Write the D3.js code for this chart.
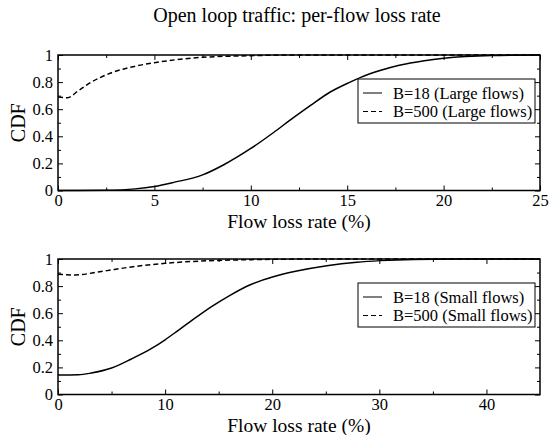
<!DOCTYPE html>
<html>
<head>
<meta charset="utf-8">
<script src="https://cdn.jsdelivr.net/npm/d3@7"></script>
<style>
  body { margin: 0; background: #fff; }
  svg { font-family: "Liberation Serif", "DejaVu Serif", serif; }
  .axis path { display: none; }
  .axis line { stroke: #000; stroke-width: 1; }
  .axis text { font-size: 16.5px; fill: #000; font-family: "Liberation Serif", serif; }
</style>
</head>
<body>
<svg width="555" height="435"></svg>
<script>
// values
var largeX18 = [0, 2.5, 4, 5, 6, 7.5, 8.6, 10, 11.2, 12, 13.1, 14.1, 15.15, 15.7, 16.7, 17.7, 19, 20, 22.5, 25];
var largeY18 = [0, 0.002, 0.012, 0.03, 0.06, 0.115, 0.19, 0.31, 0.43, 0.515, 0.628, 0.725, 0.80, 0.835, 0.885, 0.924, 0.958, 0.976, 0.996, 1];
var largeX500 = [0, 0.5, 1, 1.5, 2.7, 3.9, 5, 7.5, 10, 12, 25];
var largeY500 = [0.69, 0.685, 0.73, 0.78, 0.865, 0.914, 0.943, 0.983, 0.995, 1, 1];

var smallX18 = [0, 1.9, 3.1, 5.0, 6.85, 8.7, 10, 11.2, 12.5, 14.3, 16.1, 17.9, 20.1, 22.3, 25.1, 27.9, 30.1, 33.2, 37, 45];
var smallY18 = [0.143, 0.145, 0.158, 0.195, 0.262, 0.338, 0.404, 0.472, 0.547, 0.647, 0.734, 0.808, 0.869, 0.911, 0.95, 0.976, 0.988, 0.997, 1, 1];
var smallX500 = [0, 1.6, 3.9, 7, 10, 13.3, 18, 25, 45];
var smallY500 = [0.887, 0.882, 0.906, 0.943, 0.968, 0.985, 0.995, 1, 1];

var yTicks = [0, 0.2, 0.4, 0.6, 0.8, 1];
var yMinor = [0.1, 0.3, 0.5, 0.7, 0.9];
var largeTicks = [0, 5, 10, 15, 20, 25];
var largeMinor = [2.5, 7.5, 12.5, 17.5, 22.5];
var smallTicks = [0, 10, 20, 30, 40];
var smallMinor = [5, 15, 25, 35];

var title = "Open loop traffic: per-flow loss rate";
var xTitle = "Flow loss rate (%)";
var yTitle = "CDF";

var svg = d3.select('svg');

svg.append('text')
    .text(title)
    .attr('x', 297)
    .attr('y', 22)
    .style('text-anchor', 'middle')
    .style('font-size', '20px');

function panel(top, xmax, ticks, minor, series, legendNames) {
  var left = 58, right = 540, h = 135.5;
  var x = d3.scaleLinear().domain([0, xmax]).range([left, right]);
  var y = d3.scaleLinear().domain([0, 1]).range([top + h, top]);
  var fmt = d3.format('');

  var g = svg.append('g');

  // major + minor ticks, inward, on all four sides
  g.append('g').attr('class', 'axis')
      .attr('transform', 'translate(0,' + (top + h) + ')')
      .call(d3.axisBottom(x).tickValues(ticks).tickSize(-5).tickPadding(3.5).tickFormat(fmt));
  g.append('g').attr('class', 'axis')
      .attr('transform', 'translate(0,' + (top + h) + ')')
      .call(d3.axisBottom(x).tickValues(minor).tickSize(-3).tickFormat(''));
  g.append('g').attr('class', 'axis')
      .attr('transform', 'translate(0,' + top + ')')
      .call(d3.axisTop(x).tickValues(ticks).tickSize(-5).tickFormat(''));
  g.append('g').attr('class', 'axis')
      .attr('transform', 'translate(0,' + top + ')')
      .call(d3.axisTop(x).tickValues(minor).tickSize(-3).tickFormat(''));

  g.append('g').attr('class', 'axis')
      .attr('transform', 'translate(' + left + ',0)')
      .call(d3.axisLeft(y).tickValues(yTicks).tickSize(-5).tickPadding(5).tickFormat(fmt));
  g.append('g').attr('class', 'axis')
      .attr('transform', 'translate(' + left + ',0)')
      .call(d3.axisLeft(y).tickValues(yMinor).tickSize(-3).tickFormat(''));
  g.append('g').attr('class', 'axis')
      .attr('transform', 'translate(' + right + ',0)')
      .call(d3.axisRight(y).tickValues(yTicks).tickSize(-5).tickFormat(''));
  g.append('g').attr('class', 'axis')
      .attr('transform', 'translate(' + right + ',0)')
      .call(d3.axisRight(y).tickValues(yMinor).tickSize(-3).tickFormat(''));

  var line = d3.line()
      .x(d => x(d[0]))
      .y(d => y(d[1]))
      .curve(d3.curveMonotoneX);

  series.forEach(function(s) {
    g.append('path')
        .datum(d3.zip(s.xs, s.ys))
        .attr('fill', 'none')
        .attr('stroke', '#000')
        .attr('stroke-width', 1.5)
        .attr('stroke-dasharray', s.dash)
        .attr('d', line);
  });

  g.append('rect')
      .attr('x', left).attr('y', top)
      .attr('width', right - left).attr('height', h)
      .attr('fill', 'none')
      .attr('stroke', '#000')
      .attr('stroke-width', 1.5);

  g.append('text')
      .text(yTitle)
      .attr('transform', 'translate(25,' + (top + h / 2) + ') rotate(-90)')
      .style('text-anchor', 'middle')
      .style('font-size', '20px');

  g.append('text')
      .text(xTitle)
      .attr('x', 299)
      .attr('y', top + h + 37)
      .style('text-anchor', 'middle')
      .style('font-size', '19.5px');

  // legend
  var lx = 358, ly = top + 24;
  g.append('rect')
      .attr('x', lx).attr('y', ly)
      .attr('width', 177).attr('height', 44)
      .attr('fill', '#fff')
      .attr('stroke', '#000')
      .attr('stroke-width', 1);
  legendNames.forEach(function(name, i) {
    var cy = ly + 14 + i * 18.5;
    g.append('line')
        .attr('x1', lx + 5).attr('x2', lx + 24)
        .attr('y1', cy).attr('y2', cy)
        .attr('stroke', '#000')
        .attr('stroke-width', 1)
        .attr('stroke-dasharray', series[i].dash);
    g.append('text')
        .text(name)
        .attr('x', lx + 35)
        .attr('y', cy + 5.5)
        .style('font-size', '16.5px');
  });
}

panel(55, 25, largeTicks, largeMinor,
  [{xs: largeX18, ys: largeY18, dash: null},
   {xs: largeX500, ys: largeY500, dash: '5,3'}],
  ['B=18 (Large flows)', 'B=500 (Large flows)']);

panel(259, 45, smallTicks, smallMinor,
  [{xs: smallX18, ys: smallY18, dash: null},
   {xs: smallX500, ys: smallY500, dash: '5,3'}],
  ['B=18 (Small flows)', 'B=500 (Small flows)']);
</script>
</body>
</html>
